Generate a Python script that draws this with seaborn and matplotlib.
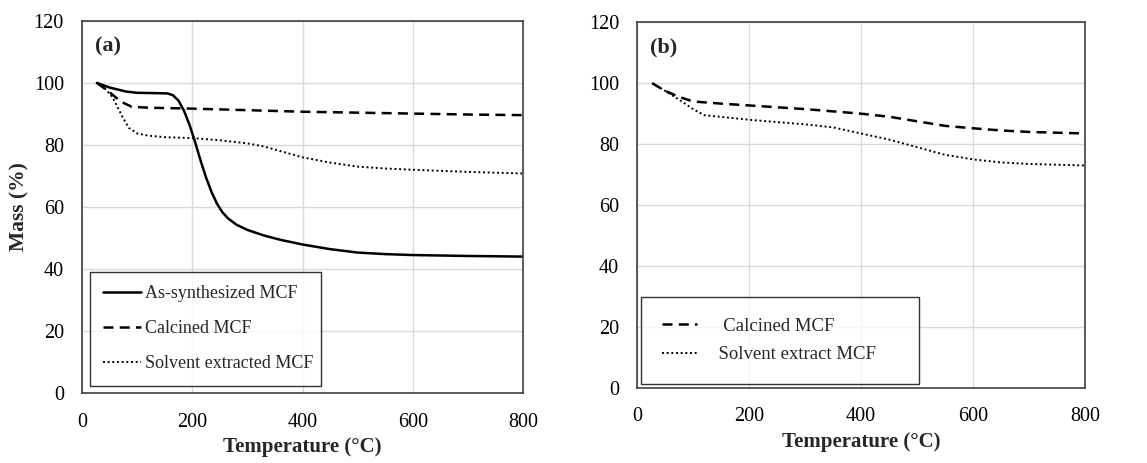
import matplotlib
matplotlib.use("Agg")
import matplotlib.pyplot as plt
import seaborn as sns
import pandas as pd

# panel (a) data
temp_as = [27, 50, 80, 100, 130, 155, 165, 175, 185, 195, 205, 215, 225, 235, 245, 255, 265, 280, 300, 330, 360, 400, 450, 500, 550, 600, 700, 800]
mass_as = [100, 98.5, 97.2, 96.8, 96.7, 96.6, 96.0, 94.3, 91.0, 86.5, 81.0, 75.0, 69.5, 64.8, 61.0, 58.2, 56.3, 54.3, 52.6, 50.8, 49.4, 47.9, 46.4, 45.3, 44.8, 44.5, 44.2, 44.0]

temp_calc_a = [27, 50, 70, 90, 120, 200, 300, 400, 500, 600, 700, 800]
mass_calc_a = [100, 97.0, 94.0, 92.3, 92.0, 91.7, 91.2, 90.7, 90.4, 90.1, 89.8, 89.6]

temp_solv_a = [27, 40, 55, 65, 75, 85, 100, 120, 150, 200, 250, 300, 330, 360, 400, 450, 500, 550, 600, 700, 800]
mass_solv_a = [100, 98.5, 95.5, 92.0, 88.5, 85.5, 83.7, 83.0, 82.5, 82.2, 81.5, 80.5, 79.5, 78.0, 76.0, 74.3, 73.0, 72.4, 72.0, 71.3, 70.8]

# panel (b) data
temp_calc_b = [27, 50, 75, 100, 150, 200, 300, 400, 450, 500, 550, 600, 650, 700, 800]
mass_calc_b = [100, 97.5, 95.5, 94.0, 93.3, 92.7, 91.5, 90.0, 89.0, 87.5, 86.0, 85.2, 84.5, 84.0, 83.5]

temp_solv_b = [27, 50, 80, 100, 120, 200, 300, 350, 400, 450, 500, 550, 600, 650, 700, 800]
mass_solv_b = [100, 97.5, 94.0, 91.5, 89.5, 88.0, 86.5, 85.5, 83.5, 81.5, 79.0, 76.5, 75.0, 74.0, 73.5, 73.0]

x_ticks = [0, 200, 400, 600, 800]
y_ticks = [0, 20, 40, 60, 80, 100, 120]

sns.set_theme(style="whitegrid")
plt.rcParams['font.family'] = ['Liberation Serif', 'DejaVu Serif']

fig = plt.figure(figsize=(11.47, 4.63), dpi=100)
ax1 = fig.add_axes([0.0715, 0.151, 0.3845, 0.804])
ax2 = fig.add_axes([0.5554, 0.162, 0.3906, 0.790])

sns.lineplot(x=temp_as, y=mass_as, ax=ax1, color='black', lw=1.8, label='As-synthesized MCF')
sns.lineplot(x=temp_calc_a, y=mass_calc_a, ax=ax1, color='black', lw=1.8, label='Calcined MCF',
             linestyle=(0, (4, 2.5)))
sns.lineplot(x=temp_solv_a, y=mass_solv_a, ax=ax1, color='black', lw=1.4, label='Solvent extracted MCF',
             linestyle=(0, (1, 1.4)))

sns.lineplot(x=temp_calc_b, y=mass_calc_b, ax=ax2, color='black', lw=1.8, label='   Calcined MCF',
             linestyle=(0, (4, 2.5)))
sns.lineplot(x=temp_solv_b, y=mass_solv_b, ax=ax2, color='black', lw=1.4, label='  Solvent extract MCF',
             linestyle=(0, (1, 1.4)))

for ax in (ax1, ax2):
    ax.set_xlim(0, 800)
    ax.set_ylim(0, 120)
    ax.set_xticks(x_ticks)
    ax.set_yticks(y_ticks)
    ax.grid(True, color='#d9d9d9', lw=1)
    ax.tick_params(length=0, labelsize=14.5, colors='black')
    ax.tick_params(axis='x', pad=14)
    ax.tick_params(axis='y', pad=13)
    for s in ax.spines.values():
        s.set_color('#404040')
        s.set_linewidth(1.2)
    ax.set_xlabel('Temperature (°C)', fontsize=15, fontweight='bold', labelpad=4)
    ax.set_ylabel('')

ax1.set_ylabel('Mass (%)', fontsize=15.5, fontweight='bold', labelpad=3)

ax1.text(0.03, 0.93, '(a)', transform=ax1.transAxes, fontsize=16, fontweight='bold', va='center')
ax2.text(0.03, 0.93, '(b)', transform=ax2.transAxes, fontsize=16, fontweight='bold', va='center')

leg1 = ax1.legend(loc='lower left', bbox_to_anchor=(0.018, 0.019, 0.524, 0.3), mode='expand',
                  borderaxespad=0, fontsize=13, frameon=True, fancybox=False, edgecolor='black',
                  handlelength=2.1, handletextpad=0.2, labelspacing=1.0, borderpad=0.75)
leg1.get_frame().set_linewidth(1.0)

leg2 = ax2.legend(loc='lower left', bbox_to_anchor=(0.009, 0.011, 0.621, 0.24), mode='expand',
                  borderaxespad=0, fontsize=13.5, frameon=True, fancybox=False, edgecolor='black',
                  handlelength=1.9, handletextpad=0.6, labelspacing=0.6, borderpad=1.1)
leg2.get_frame().set_linewidth(1.0)

plt.savefig('out.png', dpi=100)
plt.close()
